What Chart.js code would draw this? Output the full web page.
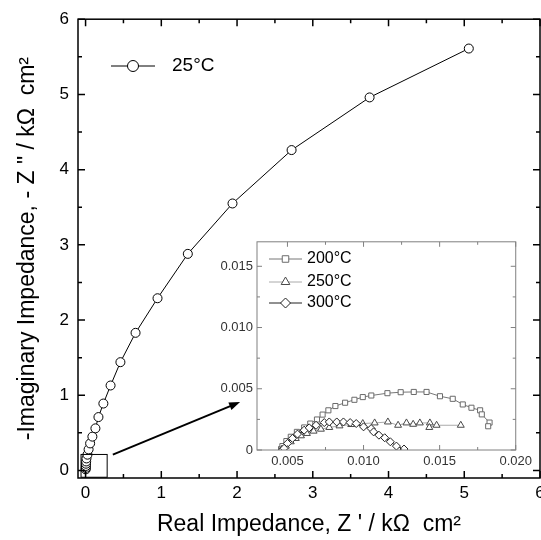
<!DOCTYPE html>
<html>
<head>
<meta charset="utf-8">
<script src="https://cdn.jsdelivr.net/npm/chart.js@4/dist/chart.umd.min.js"></script>
<style>
html, body { margin: 0; padding: 0; background: #fff; overflow: hidden; width: 541px; height: 540px; }
#wrap { position: relative; width: 560px; height: 540px; }
#main { position: absolute; left: 0; top: 0; }
#inset { position: absolute; left: 215px; top: 230px; }
</style>
</head>
<body>
<div id="wrap">
  <canvas id="main" width="560" height="540"></canvas>
  <canvas id="inset" width="321" height="242"></canvas>
</div>
<script>
// main plot, 25 C
var x25 = [0.002, 0.003, 0.004, 0.006, 0.008, 0.012, 0.025, 0.04, 0.06, 0.09, 0.13, 0.17, 0.235, 0.33, 0.46, 0.66, 0.95, 1.35, 1.94, 2.72, 3.75, 5.06];
var y25 = [0.015, 0.035, 0.06, 0.09, 0.12, 0.16, 0.21, 0.28, 0.36, 0.45, 0.56, 0.71, 0.89, 1.13, 1.44, 1.83, 2.29, 2.88, 3.55, 4.26, 4.96, 5.61];
var mainXTicks = [0, 1, 2, 3, 4, 5, 6];
var mainYTicks = [0, 1, 2, 3, 4, 5, 6];

// inset
var x200 = [0.00458, 0.00467, 0.00493, 0.00522, 0.00562, 0.0061, 0.0065, 0.00694, 0.00731, 0.00769, 0.00815, 0.00879, 0.0094, 0.00995, 0.01051, 0.01157, 0.01244, 0.0133, 0.01414, 0.01502, 0.01586, 0.01652, 0.01709, 0.01766, 0.01777, 0.01828, 0.01819];
var y200 = [0.00008, 0.00032, 0.00073, 0.00108, 0.00148, 0.00184, 0.00216, 0.00249, 0.00289, 0.00324, 0.00359, 0.00386, 0.0041, 0.00432, 0.00445, 0.00464, 0.00472, 0.00474, 0.00474, 0.00439, 0.00418, 0.00372, 0.00345, 0.00324, 0.00291, 0.00224, 0.00194];
var x250 = [0.00462, 0.0049, 0.00522, 0.00555, 0.00589, 0.00628, 0.00672, 0.0072, 0.00775, 0.00842, 0.00919, 0.00995, 0.01073, 0.0116, 0.01227, 0.01282, 0.01326, 0.0137, 0.01436, 0.01432, 0.0148, 0.01639];
var y250 = [0.00005, 0.00032, 0.00067, 0.00094, 0.00116, 0.00135, 0.00154, 0.0017, 0.00184, 0.00197, 0.00208, 0.00216, 0.00221, 0.00229, 0.00202, 0.00221, 0.0021, 0.00221, 0.00221, 0.00184, 0.00202, 0.00202];
var x300 = [0.0047, 0.00478, 0.005, 0.00533, 0.00566, 0.0061, 0.00643, 0.00688, 0.00742, 0.00775, 0.00824, 0.00868, 0.00912, 0.00952, 0.01, 0.0105, 0.01066, 0.01101, 0.01139, 0.01176, 0.01216, 0.01266];
var y300 = [0.00002, 0.00014, 0.00054, 0.00095, 0.0013, 0.00162, 0.00181, 0.00202, 0.00224, 0.00229, 0.00229, 0.00229, 0.00224, 0.00216, 0.00189, 0.00175, 0.00148, 0.00121, 0.001, 0.00067, 0.00032, 0.00008];
var insetXTicks = [0.005, 0.010, 0.015, 0.020];
var insetYTicks = [0, 0.005, 0.010, 0.015];

// zoom box and arrow on the main plot, in data units
var zoomBox = [-0.06, -0.09, 0.285, 0.213];
var arrowFrom = [0.36, 0.21];
var arrowTo = [2.04, 0.91];

var FONT = '"Liberation Sans", Arial, sans-serif';

function pts(xs, ys) {
    return xs.map(function (v, i) { return { x: v, y: ys[i] }; });
}

function minors(ticks, lo, hi) {
    var out = [];
    for (var i = 0; i < ticks.length - 1; i++) out.push((ticks[i] + ticks[i + 1]) / 2);
    var step = ticks[1] - ticks[0];
    out.push(ticks[0] - step / 2, ticks[ticks.length - 1] + step / 2);
    return out.filter(function (v) { return v > lo && v < hi; });
}

function drawFrame(chart, xt, yt, color, lw, lMaj, lMin) {
    var ctx = chart.ctx, a = chart.chartArea, sx = chart.scales.x, sy = chart.scales.y;
    ctx.save();
    ctx.strokeStyle = color;
    ctx.lineWidth = lw;
    ctx.beginPath();
    function xt1(v, l) {
        var p = sx.getPixelForValue(v);
        ctx.moveTo(p, a.bottom); ctx.lineTo(p, a.bottom - l);
        ctx.moveTo(p, a.top); ctx.lineTo(p, a.top + l);
    }
    function yt1(v, l) {
        var p = sy.getPixelForValue(v);
        ctx.moveTo(a.left, p); ctx.lineTo(a.left + l, p);
        ctx.moveTo(a.right, p); ctx.lineTo(a.right - l, p);
    }
    xt.forEach(function (v) { if (v >= sx.min && v <= sx.max) xt1(v, lMaj); });
    minors(xt, sx.min, sx.max).forEach(function (v) { xt1(v, lMin); });
    yt.forEach(function (v) { if (v >= sy.min && v <= sy.max) yt1(v, lMaj); });
    minors(yt, sy.min, sy.max).forEach(function (v) { yt1(v, lMin); });
    ctx.stroke();
    ctx.strokeRect(a.left, a.top, a.right - a.left, a.bottom - a.top);
    ctx.restore();
}

function marker(ctx, style, x, y, r) {
    ctx.beginPath();
    if (style === 'circle') {
        ctx.arc(x, y, r, 0, Math.PI * 2);
    } else if (style === 'rect') {
        var s = r * Math.SQRT1_2;
        ctx.rect(x - s, y - s, 2 * s, 2 * s);
    } else if (style === 'triangle') {
        ctx.moveTo(x, y - r);
        ctx.lineTo(x + r * 0.866, y + r * 0.5);
        ctx.lineTo(x - r * 0.866, y + r * 0.5);
        ctx.closePath();
    } else {
        ctx.moveTo(x, y - r); ctx.lineTo(x + r, y); ctx.lineTo(x, y + r); ctx.lineTo(x - r, y);
        ctx.closePath();
    }
    ctx.fillStyle = '#fff';
    ctx.fill();
    ctx.stroke();
}

function legendRow(ctx, ds, x0, x1, y, tx, size) {
    ctx.save();
    ctx.strokeStyle = ds.borderColor;
    ctx.lineWidth = 1;
    ctx.beginPath(); ctx.moveTo(x0, y); ctx.lineTo(x1, y); ctx.stroke();
    ctx.strokeStyle = ds.pointBorderColor;
    marker(ctx, ds.pointStyle, (x0 + x1) / 2, y, ds.pointRadius + 1);
    ctx.fillStyle = '#000';
    ctx.font = size + 'px ' + FONT;
    ctx.textBaseline = 'middle';
    ctx.fillText(ds.label, tx, y);
    ctx.restore();
}

var mainPlugin = {
    id: 'mainDeco',
    afterDatasetsDraw: function (chart) {
        var ctx = chart.ctx, sx = chart.scales.x, sy = chart.scales.y;
        ctx.save();
        ctx.strokeStyle = '#000';
        ctx.lineWidth = 1;
        var bx0 = sx.getPixelForValue(zoomBox[0]), by0 = sy.getPixelForValue(zoomBox[1]);
        var bx1 = sx.getPixelForValue(zoomBox[2]), by1 = sy.getPixelForValue(zoomBox[3]);
        ctx.strokeRect(bx0, by1, bx1 - bx0, by0 - by1);
        var ax0 = sx.getPixelForValue(arrowFrom[0]), ay0 = sy.getPixelForValue(arrowFrom[1]);
        var ax1 = sx.getPixelForValue(arrowTo[0]), ay1 = sy.getPixelForValue(arrowTo[1]);
        var ang = Math.atan2(ay1 - ay0, ax1 - ax0);
        ctx.lineWidth = 2;
        ctx.beginPath();
        ctx.moveTo(ax0, ay0);
        ctx.lineTo(ax1 - 8 * Math.cos(ang), ay1 - 8 * Math.sin(ang));
        ctx.stroke();
        ctx.fillStyle = '#000';
        ctx.beginPath();
        ctx.moveTo(ax1, ay1);
        ctx.lineTo(ax1 - 11 * Math.cos(ang) + 4 * Math.sin(ang), ay1 - 11 * Math.sin(ang) - 4 * Math.cos(ang));
        ctx.lineTo(ax1 - 11 * Math.cos(ang) - 4 * Math.sin(ang), ay1 - 11 * Math.sin(ang) + 4 * Math.cos(ang));
        ctx.closePath();
        ctx.fill();
        ctx.restore();
    },
    afterDraw: function (chart) {
        drawFrame(chart, mainXTicks, mainYTicks, '#000', 1.5, 7, 4);
        legendRow(chart.ctx, chart.data.datasets[0], 111, 155, 66, 172, 19);
    }
};

var insetPlugin = {
    id: 'insetDeco',
    beforeDatasetsDraw: function (chart) {
        var ctx = chart.ctx, a = chart.chartArea;
        ctx.save();
        ctx.fillStyle = '#fff';
        ctx.fillRect(a.left, a.top, a.right - a.left, a.bottom - a.top);
        ctx.restore();
    },
    afterDraw: function (chart) {
        drawFrame(chart, insetXTicks, insetYTicks, '#808080', 1, 5, 3);
        var d = chart.data.datasets;
        legendRow(chart.ctx, d[0], 54, 87, 29, 92, 16);
        legendRow(chart.ctx, d[1], 54, 87, 52, 92, 16);
        legendRow(chart.ctx, d[2], 54, 87, 73, 92, 16);
    }
};

new Chart(document.getElementById('main').getContext('2d'), {
    type: 'scatter',
    data: {
        datasets: [{
            label: '25°C',
            data: pts(x25, y25),
            showLine: true,
            borderColor: '#000',
            borderWidth: 1,
            pointStyle: 'circle',
            pointRadius: 4.5,
            pointBorderColor: '#000',
            pointBackgroundColor: '#fff',
            pointBorderWidth: 1
        }]
    },
    options: {
        responsive: false,
        animation: false,
        events: [],
        layout: { padding: { left: 0, top: 19, right: 20, bottom: 0 } },
        plugins: { legend: { display: false }, tooltip: { enabled: false } },
        scales: {
            x: {
                type: 'linear', min: -0.1, max: 6,
                grid: { display: false, drawTicks: false }, border: { display: false },
                afterBuildTicks: function (s) { s.ticks = mainXTicks.map(function (v) { return { value: v }; }); },
                afterFit: function (s) { s.height = 62; },
                ticks: { color: '#000', font: { family: FONT, size: 17 }, padding: 5, maxRotation: 0, autoSkip: false,
                    callback: function (v) { return String(v); } },
                title: { display: true, text: "Real Impedance, Z ' / kΩ  cm²", color: '#000',
                    font: { family: FONT, size: 23 }, padding: { top: 0, bottom: 2 } }
            },
            y: {
                type: 'linear', min: -0.1, max: 6,
                grid: { display: false, drawTicks: false }, border: { display: false },
                afterBuildTicks: function (s) { s.ticks = mainYTicks.map(function (v) { return { value: v }; }); },
                afterFit: function (s) { s.width = 78; },
                ticks: { color: '#000', font: { family: FONT, size: 17 }, padding: 9, autoSkip: false,
                    callback: function (v) { return String(v); } },
                title: { display: true, text: '-Imaginary Impedance, - Z " / kΩ  cm²', color: '#000',
                    font: { family: FONT, size: 23 }, padding: { top: 14, bottom: 0 } }
            }
        }
    },
    plugins: [mainPlugin]
});

new Chart(document.getElementById('inset').getContext('2d'), {
    type: 'scatter',
    data: {
        datasets: [{
            label: '200°C', data: pts(x200, y200), showLine: true, order: 3,
            borderColor: '#777', borderWidth: 1, pointStyle: 'rect', pointRadius: 3.6,
            pointBorderColor: '#6a6a6a', pointBackgroundColor: '#fff', pointBorderWidth: 1
        }, {
            label: '250°C', data: pts(x250, y250), showLine: true, order: 2,
            borderColor: '#aaa', borderWidth: 1, pointStyle: 'triangle', pointRadius: 4,
            pointBorderColor: '#4a4a4a', pointBackgroundColor: '#fff', pointBorderWidth: 1
        }, {
            label: '300°C', data: pts(x300, y300), showLine: true, order: 1,
            borderColor: '#222', borderWidth: 1, pointStyle: 'rectRot', pointRadius: 4,
            pointBorderColor: '#222', pointBackgroundColor: '#fff', pointBorderWidth: 1
        }]
    },
    options: {
        responsive: false,
        animation: false,
        events: [],
        layout: { padding: { left: 0, top: 10, right: 20, bottom: 0 } },
        plugins: { legend: { display: false }, tooltip: { enabled: false } },
        scales: {
            x: {
                type: 'linear', min: 0.003, max: 0.020,
                grid: { display: false, drawTicks: false }, border: { display: false },
                afterBuildTicks: function (s) { s.ticks = insetXTicks.map(function (v) { return { value: v }; }); },
                afterFit: function (s) { s.height = 22; },
                ticks: { color: '#333', font: { family: FONT, size: 13 }, padding: 4, maxRotation: 0, autoSkip: false,
                    callback: function (v) { return v.toFixed(3); } }
            },
            y: {
                type: 'linear', min: 0, max: 0.017,
                grid: { display: false, drawTicks: false }, border: { display: false },
                afterBuildTicks: function (s) { s.ticks = insetYTicks.map(function (v) { return { value: v }; }); },
                afterFit: function (s) { s.width = 42; },
                ticks: { color: '#333', font: { family: FONT, size: 13 }, padding: 4, autoSkip: false,
                    callback: function (v) { return v === 0 ? '0' : v.toFixed(3); } }
            }
        }
    },
    plugins: [insetPlugin]
});
</script>
</body>
</html>
